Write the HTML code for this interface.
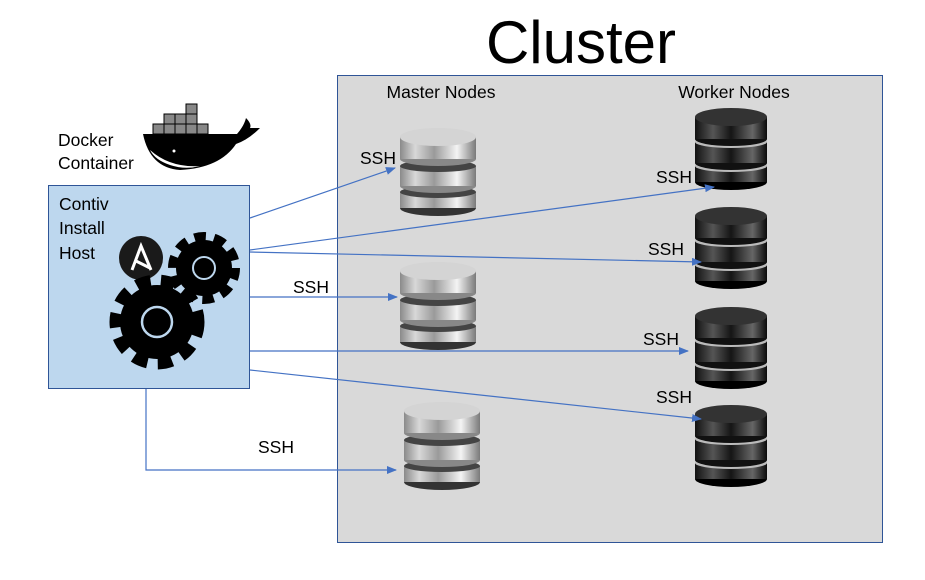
<!DOCTYPE html>
<html><head><meta charset="utf-8"><style>
html,body{margin:0;padding:0;background:#fff;}
svg{display:block;font-family:"Liberation Sans",sans-serif;}
</style></head><body>
<svg width="925" height="580" viewBox="0 0 925 580" xmlns="http://www.w3.org/2000/svg">
<defs>
<linearGradient id="sg" x1="0" x2="1" y1="0" y2="0">
<stop offset="0" stop-color="#8a8a8a"/><stop offset="0.2" stop-color="#d8d8d8"/><stop offset="0.45" stop-color="#9a9a9a"/><stop offset="0.75" stop-color="#f4f4f4"/><stop offset="1" stop-color="#7a7a7a"/>
</linearGradient>
<linearGradient id="bg" x1="0" x2="1" y1="0" y2="0">
<stop offset="0" stop-color="#111"/><stop offset="0.25" stop-color="#555"/><stop offset="0.5" stop-color="#151515"/><stop offset="0.8" stop-color="#666"/><stop offset="1" stop-color="#0a0a0a"/>
</linearGradient>
<g id="sdb">
<ellipse cx="38" cy="80" rx="38" ry="8" fill="#333"/>
<rect x="0" y="64" width="76" height="16" fill="url(#sg)"/>
<ellipse cx="38" cy="64" rx="38" ry="6" fill="#444"/>
<ellipse cx="38" cy="58" rx="38" ry="7" fill="#888"/>
<rect x="0" y="38" width="76" height="20" fill="url(#sg)"/>
<ellipse cx="38" cy="38" rx="38" ry="6" fill="#444"/>
<ellipse cx="38" cy="31" rx="38" ry="7" fill="#888"/>
<rect x="0" y="9" width="76" height="22" fill="url(#sg)"/>
<ellipse cx="38" cy="9" rx="38" ry="9" fill="#d4d4d4"/>
</g>
<g id="bdb">
<ellipse cx="36" cy="74" rx="36" ry="8" fill="#000"/>
<rect x="0" y="58" width="72" height="16" fill="url(#bg)"/>
<ellipse cx="36" cy="58" rx="36" ry="6" fill="#bbb"/>
<ellipse cx="36" cy="55" rx="36" ry="7" fill="#111"/>
<rect x="0" y="34" width="72" height="21" fill="url(#bg)"/>
<ellipse cx="36" cy="34" rx="36" ry="6" fill="#bbb"/>
<ellipse cx="36" cy="31" rx="36" ry="7" fill="#111"/>
<rect x="0" y="9" width="72" height="22" fill="url(#bg)"/>
<ellipse cx="36" cy="9" rx="36" ry="9" fill="#333"/>
</g>
<marker id="ar" markerWidth="10" markerHeight="8" refX="9" refY="4" orient="auto" markerUnits="userSpaceOnUse">
<path d="M0,0 L10,4 L0,8 z" fill="#4472c4"/>
</marker>
</defs>

<text x="581" y="63" font-size="60" text-anchor="middle" fill="#000">Cluster</text>
<rect x="337.5" y="75.5" width="545" height="467" fill="#d9d9d9" stroke="#2f5597" stroke-width="1"/>
<text x="441" y="98" font-size="17.5" text-anchor="middle">Master Nodes</text>
<text x="734" y="98" font-size="17.5" text-anchor="middle">Worker Nodes</text>

<use href="#sdb" x="400" y="128"/>
<use href="#sdb" x="400" y="262"/>
<use href="#sdb" x="404" y="402"/>
<use href="#bdb" x="695" y="108"/>
<use href="#bdb" x="695" y="207"/>
<use href="#bdb" x="695" y="307"/>
<use href="#bdb" x="695" y="405"/>

<text x="58" y="146" font-size="17.5">Docker</text>
<text x="58" y="169" font-size="17.5">Container</text>
<!-- whale -->
<g fill="#000">
<path d="M143,134 L237,134 Q244,126 246,118 Q252,124 250,128 L260,128 Q248,140 236,144 Q220,168 180,170 Q150,168 143,134 z"/>
</g>
<path d="M150,150 Q170,168 200,166 Q185,170 170,165 Q155,160 150,150z" fill="#fff"/>
<circle cx="174" cy="151" r="1.5" fill="#fff"/>
<g fill="#888" stroke="#000" stroke-width="1">
<rect x="153" y="124" width="11" height="10"/><rect x="164" y="124" width="11" height="10"/><rect x="175" y="124" width="11" height="10"/><rect x="186" y="124" width="11" height="10"/><rect x="197" y="124" width="11" height="10"/>
<rect x="164" y="114" width="11" height="10"/><rect x="175" y="114" width="11" height="10"/><rect x="186" y="114" width="11" height="10"/>
<rect x="186" y="104" width="11" height="10"/>
</g>

<rect x="48.5" y="185.5" width="201" height="203" fill="#bdd7ee" stroke="#2f5597" stroke-width="1"/>
<text x="59" y="210" font-size="17.5">Contiv</text>
<text x="59" y="234" font-size="17.5">Install</text>
<text x="59" y="259" font-size="17.5">Host</text>
<circle cx="141" cy="258" r="22" fill="#1a1a1a"/>
<path d="M132,270 L141,246 L151,270 M136,261 L150,268" stroke="#fff" stroke-width="3" fill="none"/>
<circle cx="204" cy="268" r="30" fill="none" stroke="#000" stroke-width="12" stroke-dasharray="11 7.85"/>
<circle cx="204" cy="268" r="28" fill="#000"/>
<circle cx="204" cy="268" r="11" fill="none" stroke="#bdd7ee" stroke-width="2"/>
<circle cx="157" cy="322" r="40" fill="none" stroke="#000" stroke-width="15" stroke-dasharray="14 10"/>
<circle cx="157" cy="322" r="37" fill="#000"/>
<circle cx="157" cy="322" r="15" fill="none" stroke="#bdd7ee" stroke-width="2.5"/>

<g stroke="#4472c4" stroke-width="1.2" fill="none" marker-end="url(#ar)">
<line x1="250" y1="218" x2="395" y2="168"/>
<line x1="250" y1="250" x2="714" y2="187"/>
<line x1="250" y1="252" x2="701" y2="262"/>
<line x1="250" y1="297" x2="397" y2="297"/>
<line x1="250" y1="351" x2="688" y2="351"/>
<line x1="250" y1="370" x2="701" y2="419"/>
<polyline points="146,389 146,470 396,470"/>
</g>
<g font-size="17.5">
<text x="360" y="164">SSH</text>
<text x="656" y="183">SSH</text>
<text x="648" y="255">SSH</text>
<text x="293" y="293">SSH</text>
<text x="643" y="345">SSH</text>
<text x="656" y="403">SSH</text>
<text x="258" y="453">SSH</text>
</g>
</svg>
</body></html>
